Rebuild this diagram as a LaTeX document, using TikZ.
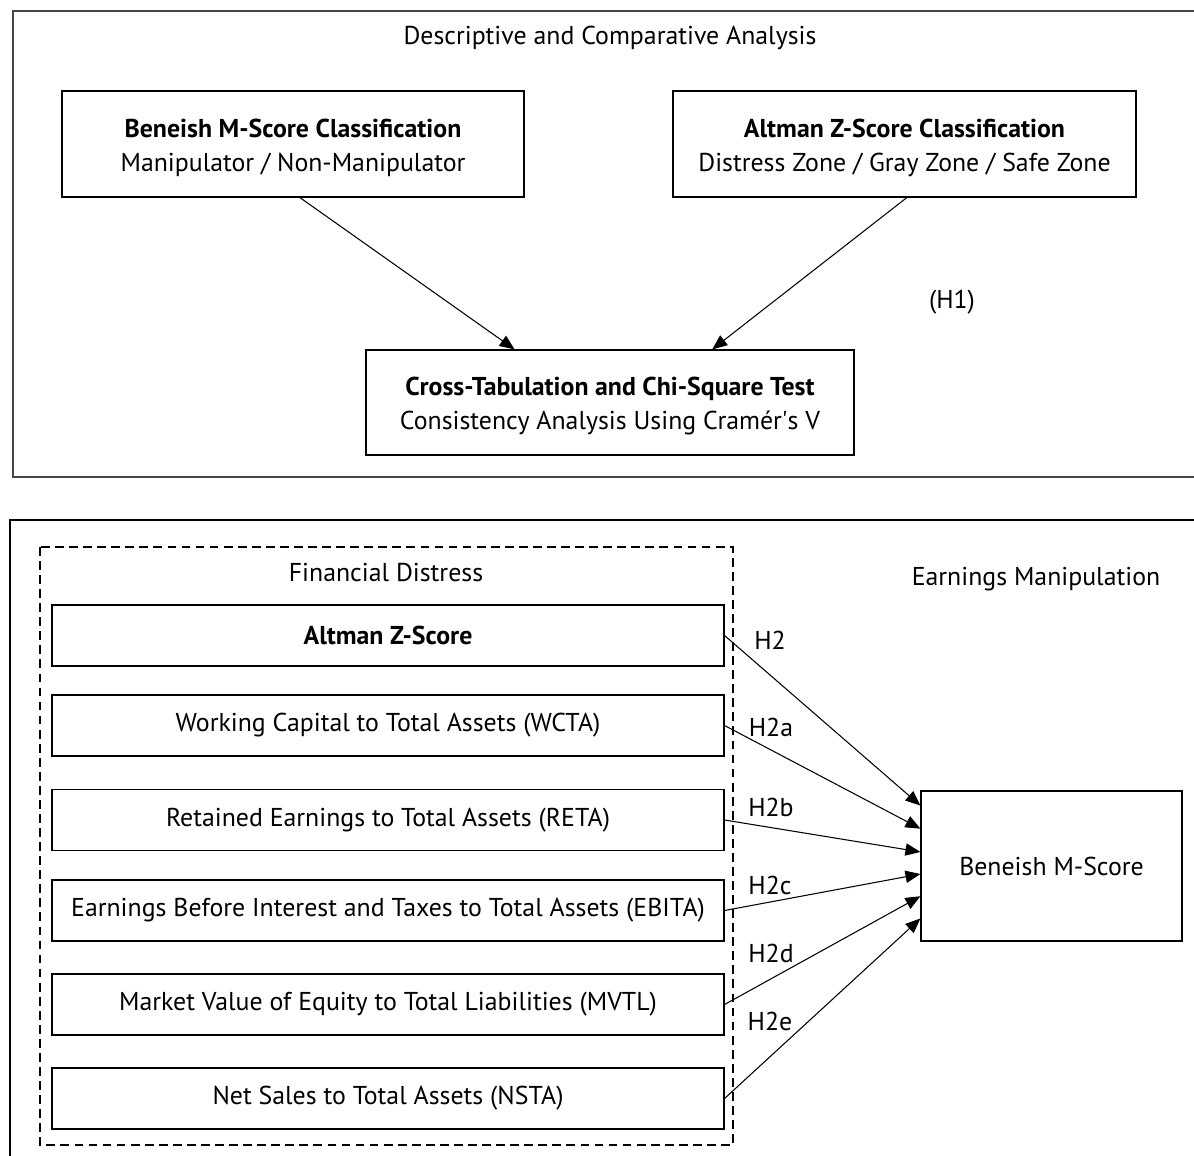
\documentclass[tikz,border=0pt]{standalone}
\usepackage{fontspec}
\setmainfont{PT Sans}
\usepackage{tikz}
\usetikzlibrary{positioning, arrows.meta, calc}

\definecolor{FrameGray}{RGB}{70,70,70}

\tikzset{
  panel/.style={line width=0.9pt, FrameGray},
  groupbox/.style={dashed, line width=0.7pt, dash pattern=on 5pt off 3pt},
  classbox/.style={draw, line width=0.7pt, align=center, minimum width=9.24cm, minimum height=2.12cm, inner sep=0pt},
  ratiobox/.style={draw, line width=0.7pt, minimum width=13.44cm, minimum height=1.22cm, inner sep=0pt},
  plain/.style={inner sep=0pt},
  link/.style={-{Triangle[length=8.5pt, width=7pt]}, line width=0.6pt},
}

\begin{document}
\begin{tikzpicture}[x=0.02cm, y=-0.02cm, font=\fontsize{14.7}{19.4}\selectfont]
  \useasboundingbox (0,0) rectangle (1194,1156);

  % upper panel: classifications
  \draw[panel] (1200,11) -- (13,11) -- (13,477) -- (1200,477);
  \node[plain] (toptitle) at (610,38) {Descriptive and Comparative Analysis};
  \node[classbox] (mclass) at (293,144) {\rule{0pt}{14.5pt}\textbf{Beneish M-Score Classification}\\Manipulator / Non-Manipulator};
  \node[classbox, minimum width=9.26cm] (zclass) at (904.5,144) {\rule{0pt}{14.5pt}\textbf{Altman Z-Score Classification}\\Distress Zone / Gray Zone / Safe Zone};
  \node[classbox, minimum width=9.76cm, minimum height=2.1cm] (cross) at (610,402.5) {\rule{0pt}{14.5pt}\textbf{Cross-Tabulation and Chi-Square Test}\\Consistency Analysis Using Cram\'er\textquotesingle s V};
  \node[plain] (hone) at (952,302) {(H1)};
  \draw[link] ($(mclass.south west)!0.515!(mclass.south east)$) -- ($(cross.north west)!0.305!(cross.north east)$);
  \draw[link] ($(zclass.south west)!0.505!(zclass.south east)$) -- ($(cross.north west)!0.709!(cross.north east)$);

  % lower panel: ratios and M-Score
  \draw[panel, black, line width=0.7pt] (1200,520) -- (10,520) -- (10,1160);
  \draw[groupbox] (40,547) rectangle (733,1145);
  \node[plain] (fdtitle) at (386,573) {Financial Distress};
  \node[plain] (emtitle) at (1036,579) {Earnings Manipulation};
  \node[ratiobox] (zscore) at (388,635.5) {\textbf{Altman Z-Score}};
  \node[ratiobox] (wcta) at (388,725.5) {Working Capital to Total Assets (WCTA)};
  \node[ratiobox] (reta) at (388,820) {Retained Earnings to Total Assets (RETA)};
  \node[ratiobox] (ebita) at (388,910.5) {Earnings Before Interest and Taxes to Total Assets (EBITA)};
  \node[ratiobox] (mvtl) at (388,1004.5) {Market Value of Equity to Total Liabilities (MVTL)};
  \node[ratiobox] (nsta) at (388,1098.5) {Net Sales to Total Assets (NSTA)};
  \node[draw, line width=0.7pt, minimum width=5.22cm, minimum height=3cm, inner sep=0pt] (mscore) at (1051.5,866) {Beneish M-Score};

  \draw[link] (zscore.east) -- ($(mscore.north west)!0.1!(mscore.south west)$);
  \draw[link] (wcta.east) -- ($(mscore.north west)!0.253!(mscore.south west)$);
  \draw[link] (reta.east) -- ($(mscore.north west)!0.407!(mscore.south west)$);
  \draw[link] (ebita.east) -- ($(mscore.north west)!0.553!(mscore.south west)$);
  \draw[link] (mvtl.east) -- ($(mscore.north west)!0.7!(mscore.south west)$);
  \draw[link] (nsta.east) -- ($(mscore.north west)!0.847!(mscore.south west)$);

  \node[plain] (htwo) at (770,640) {H2};
  \node[plain] (htwoa) at (771,727) {H2a};
  \node[plain] (htwob) at (771,807) {H2b};
  \node[plain] (htwoc) at (770,885) {H2c};
  \node[plain] (htwod) at (771,953) {H2d};
  \node[plain] (htwoe) at (770,1021) {H2e};
\end{tikzpicture}
\end{document}
